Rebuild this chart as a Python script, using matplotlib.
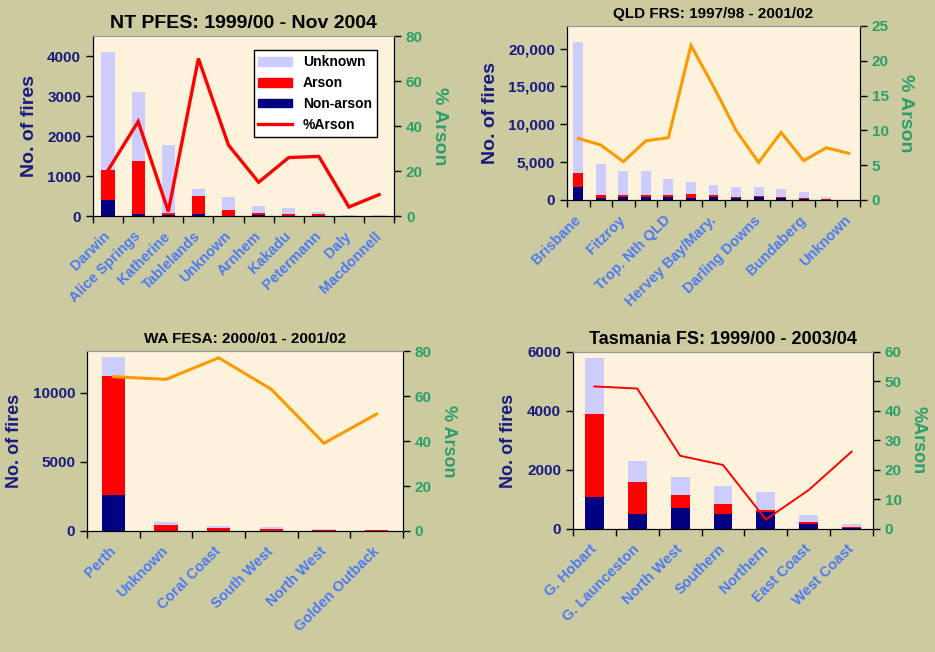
import matplotlib
matplotlib.use('Agg')
import matplotlib.pyplot as plt
import numpy as np
from matplotlib.patches import Patch
from matplotlib.lines import Line2D
from matplotlib.ticker import FuncFormatter
from matplotlib.transforms import ScaledTranslation

plt.rcParams['font.family'] = ['Liberation Sans', 'DejaVu Sans']
plt.rcParams['font.weight'] = 'bold'

# NT PFES
nt_cats = ['Darwin', 'Alice Springs', 'Katherine', 'Tablelands', 'Unknown',
           'Arnhem', 'Kakadu', 'Petermann', 'Daly', 'Macdonnell']
nt_nonarson = [400, 60, 20, 50, 10, 30, 10, 10, 2, 2]
nt_arson = [750, 1320, 50, 460, 140, 40, 40, 30, 1, 2]
nt_unknown = [2950, 1720, 1710, 170, 330, 190, 160, 50, 27, 21]
nt_pct = [20.4, 42, 2, 70, 31.5, 15, 26, 26.5, 4, 9.5]

# QLD FRS (only every other category is labelled in the original)
qld_cats = ['Brisbane', '', 'Fitzroy', '', 'Trop. Nth QLD', '', 'Hervey Bay/Mary.',
            '', 'Darling Downs', '', 'Bundaberg', '', 'Unknown']
qld_nonarson = [1760, 300, 350, 350, 350, 220, 350, 220, 350, 220, 130, 40, 5]
qld_arson = [1760, 360, 310, 310, 310, 570, 310, 130, 130, 130, 130, 50, 3]
qld_unknown = [17380, 4090, 3170, 3170, 2070, 1540, 1280, 1320, 1190, 1060, 750, 350, 20]
qld_pct = [8.85, 7.9, 5.5, 8.5, 8.95, 22.2, 16.3, 10.0, 5.4, 9.7, 5.65, 7.5, 6.7]

# WA FESA
wa_cats = ['Perth', 'Unknown', 'Coral Coast', 'South West', 'North West', 'Golden Outback']
wa_nonarson = [2610, 10, 10, 10, 5, 5]
wa_arson = [8620, 450, 230, 160, 45, 45]
wa_unknown = [1330, 170, 150, 120, 95, 20]
wa_pct = [68.6, 67.4, 77, 63, 39, 52]

# Tasmania FS
tas_cats = ['G. Hobart', 'G. Launceston', 'North West', 'Southern', 'Northern',
            'East Coast', 'West Coast']
tas_nonarson = [1080, 510, 725, 510, 580, 180, 20]
tas_arson = [2810, 1080, 435, 330, 55, 70, 37]
tas_unknown = [1910, 700, 600, 610, 605, 215, 103]
tas_pct = [48.3, 47.6, 24.8, 21.7, 3.2, 13.2, 26.2]

BG = '#CCCBA0'
FACE = '#FDF3DC'
C_UNK = '#CCCCFF'
C_ARS = '#FF0000'
C_NON = '#000080'
NAVY = '#1A1A80'
GREEN = '#2E9E6B'
BLUE = '#4D79F5'

fig = plt.figure(figsize=(9.35, 6.52), dpi=100, facecolor=BG)


def panel(rect, cats, non, ars, unk, pct, title, tsize, ymax, yticks, rmax, rticks,
          lcolor, lw, rlabel, comma=False, ylsize=14, lpad=7):
    ax = fig.add_axes(rect)
    ax.set_facecolor(FACE)
    n = len(cats)
    x = np.arange(n)
    non = np.array(non)
    ars = np.array(ars)
    unk = np.array(unk)
    ax.bar(x, non, 0.44, color=C_NON, zorder=2)
    ax.bar(x, ars, 0.44, bottom=non, color=C_ARS, zorder=2)
    ax.bar(x, unk, 0.44, bottom=non + ars, color=C_UNK, zorder=2)
    ax.set_xlim(-0.5, n - 0.5)
    ax.set_ylim(0, ymax)
    ax.set_yticks(yticks)
    if comma:
        ax.yaxis.set_major_formatter(FuncFormatter(lambda v, p: '{:,.0f}'.format(v)))
    ax.set_xticks(np.arange(n + 1) - 0.5)
    ax.set_xticklabels([])
    ax.set_xticks(x, minor=True)
    ax.set_xticklabels(cats, minor=True, rotation=45, ha='right', va='center',
                       rotation_mode='anchor', color=BLUE, fontsize=10.5, fontweight='bold')
    shift = ScaledTranslation(-7 / 100, 0, fig.dpi_scale_trans)
    for lbl in ax.get_xticklabels(minor=True):
        lbl.set_transform(lbl.get_transform() + shift)
    ax.tick_params(axis='x', which='minor', length=0, pad=13)
    ax.tick_params(axis='x', which='major', length=5, width=1, direction='out')
    ax.tick_params(axis='y', length=5, width=1, labelsize=11, labelcolor=NAVY)
    ax.set_ylabel('No. of fires', color=NAVY, fontsize=ylsize, fontweight='bold', labelpad=lpad)
    ax.set_title(title, fontsize=tsize, fontweight='bold', color='black', pad=6)
    for s in ['left', 'bottom', 'right']:
        ax.spines[s].set_color('black')
    ax.spines['top'].set_color('#999999')

    ax2 = ax.twinx()
    ax2.plot(x, pct, color=lcolor, lw=lw, zorder=3, solid_joinstyle='miter')
    ax2.set_ylim(0, rmax)
    ax2.set_yticks(rticks)
    ax2.tick_params(axis='y', length=5, width=1, labelsize=11, labelcolor=GREEN)
    ax2.set_ylabel(rlabel, color=GREEN, fontsize=ylsize, fontweight='bold',
                   rotation=270, labelpad=18)
    ax2.spines['top'].set_color('#999999')
    return ax, ax2


ax, ax2 = panel([0.0995, 0.6687, 0.322, 0.276], nt_cats, nt_nonarson, nt_arson, nt_unknown,
                nt_pct, 'NT PFES: 1999/00 - Nov 2004', 14, 4500, range(0, 4001, 1000),
                80, range(0, 81, 20), '#FF0000', 2.4, '% Arson')
handles = [Patch(color=C_UNK, label='Unknown'), Patch(color=C_ARS, label='Arson'),
           Patch(color=C_NON, label='Non-arson'),
           Line2D([], [], color='#FF0000', lw=2.4, label='%Arson')]
leg = ax2.legend(handles=handles, loc='upper left', bbox_to_anchor=(0.51, 0.96),
                 fancybox=False, edgecolor='black', framealpha=1, fontsize=10,
                 handlelength=2.4, handleheight=0.6, labelspacing=0.5, borderpad=0.35)
leg.get_frame().set_linewidth(1)

panel([0.6064, 0.6933, 0.3134, 0.2669], qld_cats, qld_nonarson, qld_arson, qld_unknown,
      qld_pct, 'QLD FRS: 1997/98 - 2001/02', 11, 23000, range(0, 20001, 5000),
      25, range(0, 26, 5), '#FF9900', 2.2, '% Arson', comma=True)

panel([0.093, 0.1856, 0.338, 0.276], wa_cats, wa_nonarson, wa_arson, wa_unknown,
      wa_pct, 'WA FESA: 2000/01 - 2001/02', 11, 13000, range(0, 10001, 5000),
      80, range(0, 81, 20), '#FF9900', 2.2, '% Arson', ylsize=13)

panel([0.6128, 0.1887, 0.3209, 0.2715], tas_cats, tas_nonarson, tas_arson, tas_unknown,
      tas_pct, 'Tasmania FS: 1999/00 - 2003/04', 13, 6000, range(0, 6001, 2000),
      60, range(0, 61, 10), '#FF0000', 1.4, '%Arson', ylsize=13)

fig.savefig('out.png', dpi=100, facecolor=BG)
